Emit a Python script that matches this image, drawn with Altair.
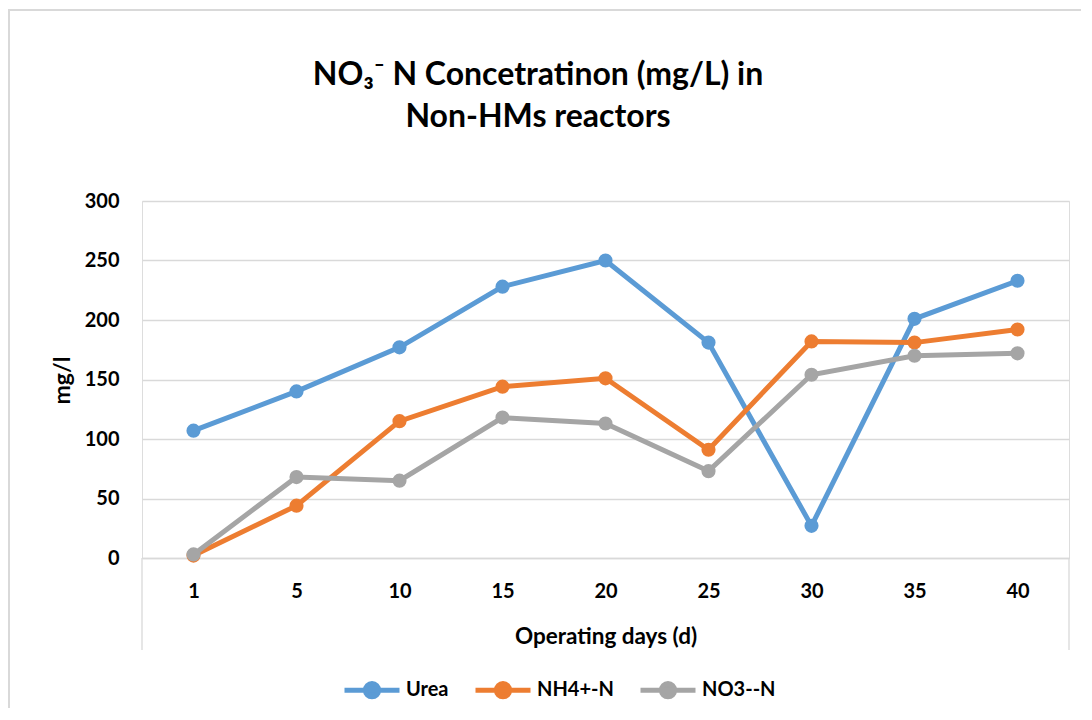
import altair as alt
import pandas as pd

DAYS = ["1", "5", "10", "15", "20", "25", "30", "35", "40"]
UREA = [107, 140, 177, 228, 250, 181, 27, 201, 233]
NH4 = [2, 44, 115, 144, 151, 91, 182, 181, 192]
NO3 = [3, 68, 65, 118, 113, 73, 154, 170, 172]
SERIES = ["Urea", "NH4+-N", "NO3--N"]
COLORS = ["#5B9BD5", "#ED7D31", "#A5A5A5"]
TITLE = ["NO\u2083\u207b N Concetratinon (mg/L) in", "Non-HMs reactors"]
Y_TITLE = "mg/l"
X_TITLE = "Operating days (d)"

rows = []
for name, vals in zip(SERIES, [UREA, NH4, NO3]):
    for i, (d, v) in enumerate(zip(DAYS, vals)):
        rows.append({"day": d, "idx": i, "value": v, "series": name})
df = pd.DataFrame(rows)

FONT = "Lato"
W, H = 927, 357

x_enc = alt.X("day:O", sort=DAYS, scale=alt.Scale(paddingInner=0, paddingOuter=0.0, align=0.5),
              axis=alt.Axis(title=X_TITLE, labelAngle=0, ticks=False, tickSize=0, grid=False,
                            domain=True, domainColor="#d9d9d9", domainWidth=1.3,
                            labelFont=FONT, labelFontSize=20, labelFontWeight="bold", labelColor="#000",
                            labelBaseline="middle", labelPadding=33,
                            titleFont=FONT, titleFontSize=22.5, titleFontWeight="bold", titleColor="#000",
                            titleBaseline="middle", titleY=78))
y_enc = alt.Y("value:Q", scale=alt.Scale(domain=[0, 300], nice=False, zero=True),
              axis=alt.Axis(title=Y_TITLE, values=[0, 50, 100, 150, 200, 250, 300], ticks=False,
                            domain=False, grid=True, gridColor="#d9d9d9", gridWidth=1.3,
                            labelFont=FONT, labelFontSize=20, labelFontWeight="bold", labelColor="#000",
                            labelPadding=23,
                            titleFont=FONT, titleFontSize=23, titleFontWeight="bold", titleColor="#000",
                            titleAngle=-90, titleX=-80, titleY=179, titleAlign="center",
                            titleBaseline="middle"))
color_enc = alt.Color("series:N", sort=SERIES,
                      scale=alt.Scale(domain=SERIES, range=COLORS),
                      legend=alt.Legend(title=None, orient="none", direction="horizontal",
                                        legendX=200, legendY=459,
                                        symbolType="M-1,0L1,0M-0.24,0A0.24,0.24,0,1,0,0.24,0A0.24,0.24,0,1,0,-0.24,0Z",
                                        symbolSize=3025, symbolStrokeWidth=5,
                                        labelFont=FONT, labelFontSize=20, labelFontWeight="bold",
                                        labelColor="#000", labelOffset=4, columnPadding=16))

lines = alt.Chart(df).mark_line(strokeWidth=5, point=alt.OverlayMarkDef(filled=True, size=200)).encode(
    x=x_enc, y=y_enc, color=color_enc, order=alt.Order("idx:Q"))

one = pd.DataFrame({"k": [0]})
border = alt.Chart(one).mark_rect(fill=None, stroke="#d9d9d9", strokeWidth=2).encode(
    x=alt.value(-133), x2=alt.value(1100), y=alt.value(-191), y2=alt.value(700))
box_l = alt.Chart(one).mark_rule(color="#d9d9d9", strokeWidth=1.3).encode(
    x=alt.value(0), y=alt.value(0 + H), y2=alt.value(449))
box_r = alt.Chart(one).mark_rule(color="#d9d9d9", strokeWidth=1.3).encode(
    x=alt.value(W), y=alt.value(H), y2=alt.value(449))
title = alt.Chart(one).mark_text(text=TITLE, font=FONT, fontSize=32, fontWeight="bold", color="#000",
                                 lineHeight=42, align="center", baseline="middle").encode(
    x=alt.value(396), y=alt.value(-126))

chart = alt.layer(border, box_l, box_r, title, lines).properties(
    width=W, height=H,
    autosize=alt.AutoSizeParams(type="none"),
    padding={"left": 134, "top": 193, "right": 12, "bottom": 150},
).configure_view(stroke=None).configure(background="white")

chart.save("out.html", embed_options={"renderer": "svg", "actions": False})
